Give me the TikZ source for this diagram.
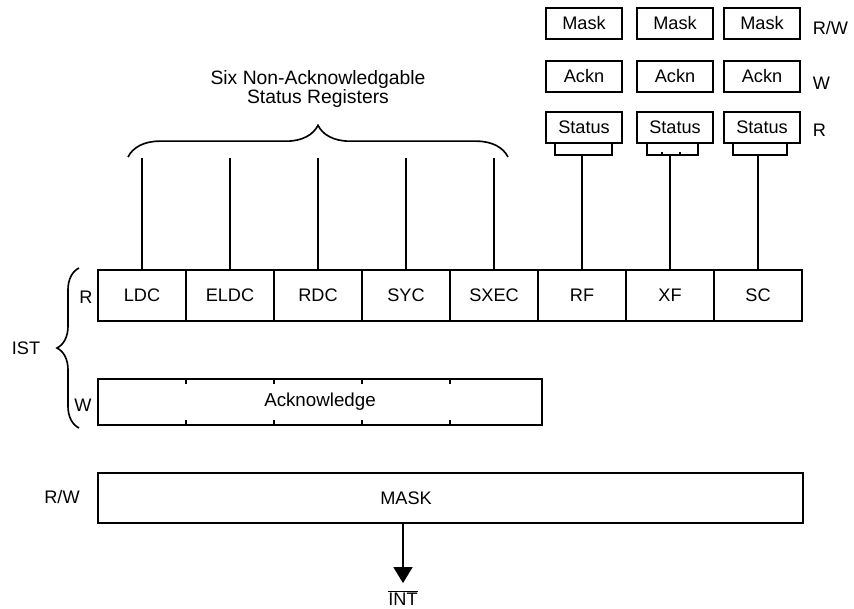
\documentclass[tikz,border=0pt]{standalone}
\usepackage{fontspec}
\setmainfont{Liberation Sans}
\usetikzlibrary{arrows.meta,decorations.pathreplacing}

\begin{document}
\begin{tikzpicture}[x=0.03cm, y=-0.03cm, line width=1.4pt,
  reg/.style={draw, minimum width=2.64cm, minimum height=1.53cm,
              inner sep=0pt, font=\fontsize{15.5}{17}\selectfont},
  sreg/.style={draw, minimum width=2.28cm, minimum height=0.93cm,
               inner sep=0pt, font=\fontsize{15.5}{17}\selectfont},
  lbl/.style={inner sep=0pt, font=\fontsize{15.5}{17}\selectfont},
  brc/.style={decorate, decoration={brace, amplitude=#1}},
  arr/.style={-{Triangle[length=0.48cm,width=0.57cm]}}
]
  \useasboundingbox (0,0) rectangle (854,609);

  % interrupt status register
  \node[reg] (ldc)  at (142,295.5) {LDC};
  \node[reg] (eldc) at (230,295.5) {ELDC};
  \node[reg] (rdc)  at (318,295.5) {RDC};
  \node[reg] (syc)  at (406,295.5) {SYC};
  \node[reg] (sxec) at (494,295.5) {SXEC};
  \node[reg] (rf)   at (582,295.5) {RF};
  \node[reg] (xf)   at (670,295.5) {XF};
  \node[reg] (sc)   at (758,295.5) {SC};

  \node[reg, minimum width=13.32cm, minimum height=1.38cm,
        font=\fontsize{16}{18}\selectfont] (ack) at (320,402) {Acknowledge};
  \foreach \x in {186,274,362,450} {
    \draw (ack.north -| \x,0) -- ++(0,6);
    \draw (ack.south -| \x,0) -- ++(0,-6);
  }

  \node[lbl] (rr) at (86,297) {R};
  \node[lbl] (ww) at (83,405) {W};
  \draw[brc=0.66cm] (79,428) -- (79,268);
  \node[lbl] (ist) at (26,348) {IST};

  % mask register
  \node[reg, minimum width=21.15cm, minimum height=1.5cm] (maskreg) at (450.5,498) {};
  \node[lbl] (masktxt) at (406,498) {MASK};
  \node[lbl] (rwm) at (62,497) {R/W};
  \node[lbl] (int) at (403,598) {$\overline{\mbox{INT}}$};
  \draw[arr] (maskreg.south -| int) -- ([yshift=0.2cm]int.north);

  % non-acknowledgable group
  \draw[brc=0.95cm] (128,157) -- (508,157);
  \node[lbl, align=center, font=\fontsize{16.5}{14.5}\selectfont] (six) at (318,89)
    {Six Non-Acknowledgable\\Status Registers};
  \coordinate (top6) at (0,158);
  \draw (ldc.north)  -- (ldc.north |- top6);
  \draw (eldc.north) -- (eldc.north |- top6);
  \draw (rdc.north)  -- (rdc.north |- top6);
  \draw (syc.north)  -- (syc.north |- top6);
  \draw (sxec.north) -- (sxec.north |- top6);

  % acknowledgable status registers
  \node[sreg] (m1) at (584,23.5) {Mask};
  \node[sreg] (m2) at (675,23.5) {Mask};
  \node[sreg] (m3) at (762,23.5) {Mask};
  \node[sreg] (a1) at (584,76.5) {Ackn};
  \node[sreg] (a2) at (675,76.5) {Ackn};
  \node[sreg] (a3) at (762,76.5) {Ackn};
  \node[sreg] (s1) at (584,127.5) {Status};
  \node[sreg] (s2) at (675,127.5) {Status};
  \node[sreg] (s3) at (762,127.5) {Status};
  \node[lbl, anchor=west] (rw3) at (812,28) {R/W};
  \node[lbl, anchor=west] (w3)  at (812,83) {W};
  \node[lbl, anchor=west] (r3)  at (812,130) {R};

  \draw (s1.south -| 555,0) |- (612,155) -- (s1.south -| 612,0);
  \draw (s2.south -| 647,0) |- (698,155) -- (s2.south -| 698,0);
  \draw (s3.south -| 733,0) |- (787,155) -- (s3.south -| 787,0);
  \draw (662,155) -- ++(0,-3) (680,155) -- ++(0,-3);
  \coordinate (b1) at (582,155);
  \coordinate (b2) at (670,155);
  \coordinate (b3) at (758,155);
  \draw (b1) -- (rf.north);
  \draw (b2) -- (xf.north);
  \draw (b3) -- (sc.north);
\end{tikzpicture}
\end{document}
